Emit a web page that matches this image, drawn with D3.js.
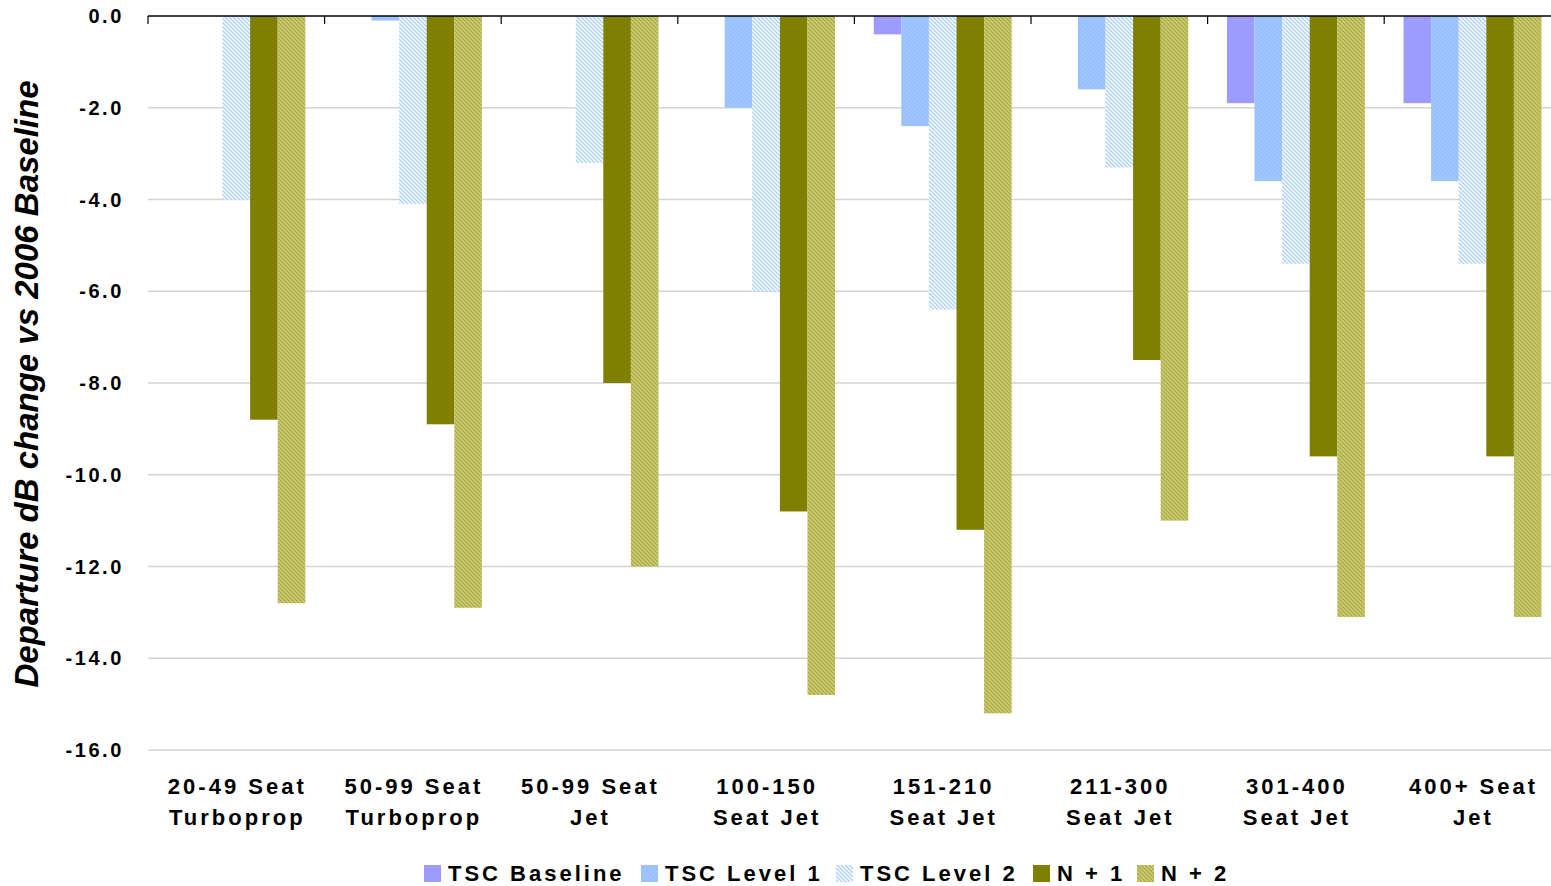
<!DOCTYPE html>
<html><head><meta charset="utf-8">
<script src="https://cdn.jsdelivr.net/npm/d3@7"></script>
<style>
html,body{margin:0;padding:0;background:#fff;overflow:hidden}
text{font-family:"Liberation Sans",Arial,sans-serif;font-weight:bold}
</style></head>
<body>
<svg id="chart" width="1551" height="886"></svg>
<script>
const categories = [
  ["20-49 Seat","Turboprop"],
  ["50-99 Seat","Turboprop"],
  ["50-99 Seat","Jet"],
  ["100-150","Seat Jet"],
  ["151-210","Seat Jet"],
  ["211-300","Seat Jet"],
  ["301-400","Seat Jet"],
  ["400+ Seat","Jet"]
];
const seriesNames = ["TSC Baseline","TSC Level 1","TSC Level 2","N + 1","N + 2"];
const tscBaseline = [0, 0, 0, 0, -0.4, 0, -1.9, -1.9];
const tscLevel1   = [0, -0.1, 0, -2.0, -2.4, -1.6, -3.6, -3.6];
const tscLevel2   = [-4.0, -4.1, -3.2, -6.0, -6.4, -3.3, -5.4, -5.4];
const nPlus1      = [-8.8, -8.9, -8.0, -10.8, -11.2, -7.5, -9.6, -9.6];
const nPlus2      = [-12.8, -12.9, -12.0, -14.8, -15.2, -11.0, -13.1, -13.1];
const yTicks = [0, -2, -4, -6, -8, -10, -12, -14, -16];
const yTitle = "Departure dB change vs 2006 Baseline";

const seriesValues = [tscBaseline, tscLevel1, tscLevel2, nPlus1, nPlus2];
const fills = ["#9C9CFF", "url(#pL1)", "url(#pL2)", "#808000", "url(#pN2)"];

const svg = d3.select("#chart");
const defs = svg.append("defs");
function hatch(id, bg, fg, w) {
  const p = defs.append("pattern").attr("id", id).attr("patternUnits", "userSpaceOnUse")
    .attr("width", 4).attr("height", 4);
  p.append("rect").attr("width", 4).attr("height", 4).attr("fill", bg);
  p.append("path").attr("d", "M-1,-1 L5,5 M-1,3 L1,5 M3,-1 L5,1")
    .attr("stroke", fg).attr("stroke-width", w);
}
hatch("pL1", "#9EC5FF", "#94BDF8", 1);
hatch("pL2", "#FFFFFF", "#A9D0FF", 1.4);
hatch("pN2", "#CACA72", "#A8A840", 1.1);

const mLeft = 148, mTop = 16, mBottom = 750;
const catW = 176.6;
const x0 = d3.scaleBand().domain(d3.range(categories.length))
  .range([mLeft, mLeft + catW * categories.length]).padding(0);
const x1 = d3.scaleBand().domain(d3.range(seriesNames.length))
  .range([0, x0.bandwidth()]).paddingInner(0).paddingOuter(0.7);
const y = d3.scaleLinear().domain([0, -16]).range([mTop, mBottom]);

// gridlines
svg.append("g").selectAll("line").data(yTicks.filter(d => d !== 0)).join("line")
  .attr("x1", mLeft).attr("x2", 1551)
  .attr("y1", d => y(d)).attr("y2", d => y(d))
  .attr("stroke", "#D4D4D4").attr("stroke-width", 1.5);

// bars
const g = svg.append("g");
categories.forEach((c, ci) => {
  seriesValues.forEach((vals, si) => {
    const v = vals[ci];
    g.append("rect")
      .attr("x", x0(ci) + x1(si))
      .attr("y", y(0))
      .attr("width", x1.bandwidth())
      .attr("height", y(v) - y(0))
      .attr("fill", fills[si]);
  });
});

// top axis line with ticks
svg.append("line").attr("x1", mLeft).attr("x2", 1551).attr("y1", y(0)).attr("y2", y(0))
  .attr("stroke", "#000").attr("stroke-width", 1.5);
svg.append("g").selectAll("line").data(d3.range(categories.length + 1)).join("line")
  .attr("x1", d => mLeft + d * catW).attr("x2", d => mLeft + d * catW)
  .attr("y1", y(0)).attr("y2", y(0) + 8)
  .attr("stroke", "#000").attr("stroke-width", 1.2);

// y tick labels
svg.append("g").selectAll("text").data(yTicks).join("text")
  .attr("x", 124).attr("y", d => y(d)).attr("dy", "0.36em")
  .attr("text-anchor", "end").attr("font-size", 20).attr("letter-spacing", 2.6)
  .text(d => d3.format(".1f")(d).replace("−", "-"));

// x labels
const xl = svg.append("g").selectAll("text").data(categories).join("text")
  .attr("text-anchor", "middle").attr("font-size", 22).attr("letter-spacing", 3.0);
xl.each(function(d, i) {
  const t = d3.select(this);
  const cx = x0(i) + x0.bandwidth() / 2 + 1;
  d.forEach((line, li) => {
    t.append("tspan").attr("x", cx).attr("y", 794 + li * 31).text(line);
  });
});

// y title
svg.append("text").attr("transform", "translate(38,384) rotate(-90)")
  .attr("text-anchor", "middle").attr("font-size", 33).attr("font-style", "italic")
  .text(yTitle);

// legend
const legendX = [424, 641, 836, 1033, 1137];
const lg = svg.append("g");
seriesNames.forEach((n, i) => {
  lg.append("rect").attr("x", legendX[i]).attr("y", 865).attr("width", 17).attr("height", 17)
    .attr("fill", fills[i]);
  lg.append("text").attr("x", legendX[i] + 24).attr("y", 881)
    .attr("font-size", 22).attr("letter-spacing", 3.0).text(n);
});
</script>
</body></html>
